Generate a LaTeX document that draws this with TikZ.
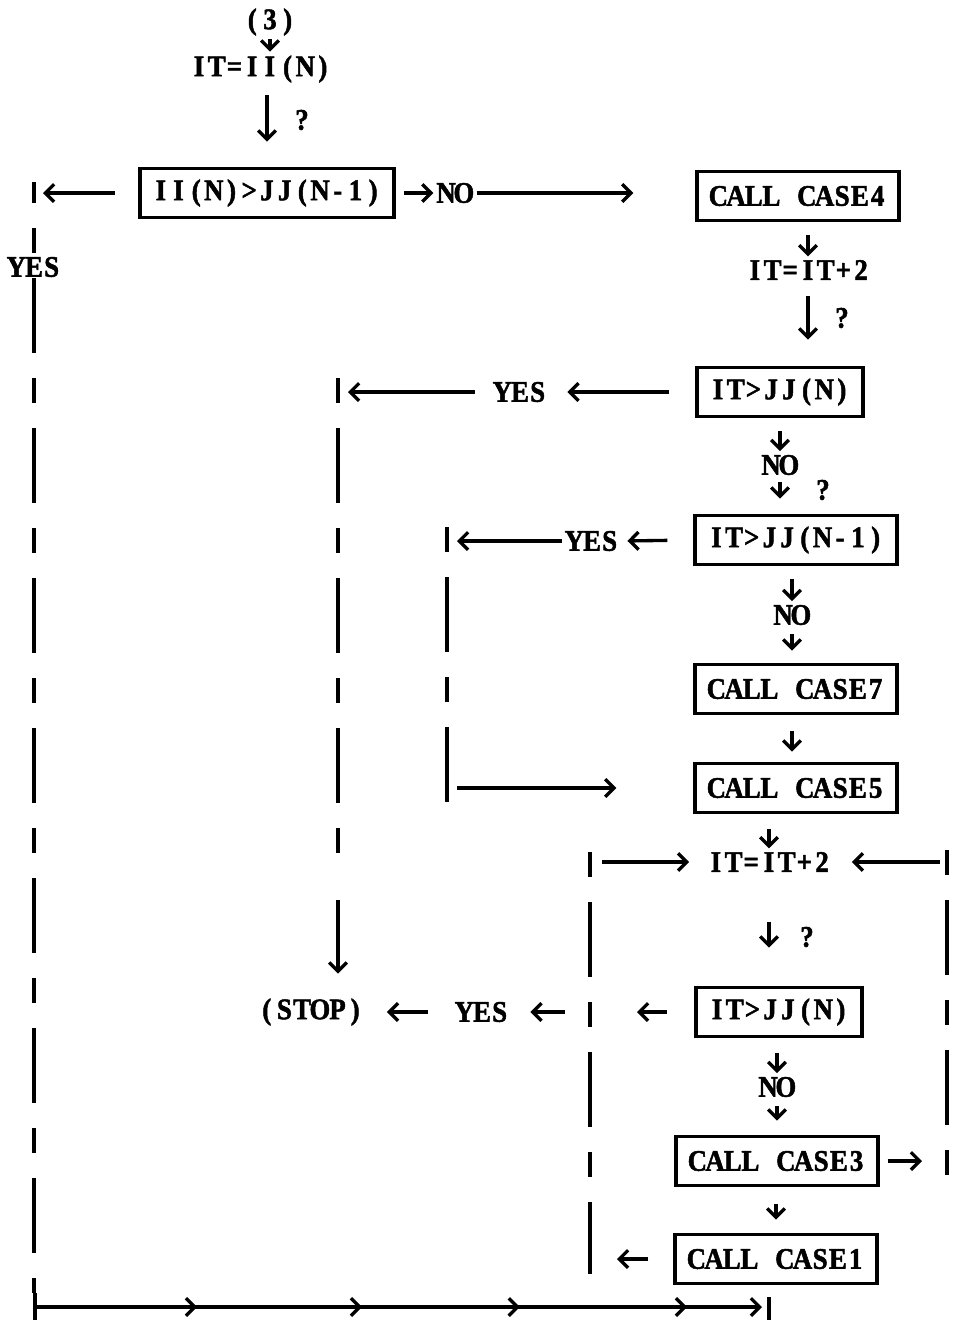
\documentclass[tikz,border=0pt]{standalone}
\usepackage{fontspec}
\setmainfont{Liberation Serif}[FakeStretch=0.9,FakeBold=1.6]
\usetikzlibrary{arrows.meta,decorations.markings}

% typewriter pitch: one box per character
\newcommand{\tw}[1]{\twchar#1\relax}
\newcommand{\twchar}[1]{\ifx\relax#1\else\makebox[0.354cm]{#1}\expandafter\twchar\fi}

\begin{document}
\begin{tikzpicture}[x=0.02cm,y=-0.02cm,
    >={Straight Barb[length=5pt,width=10pt]},
    every node/.style={font=\bfseries\fontsize{17}{20}\selectfont, inner sep=2pt},
    box/.style={draw, line width=2.2pt, inner xsep=7pt, minimum height=0.98cm},
    flow/.style={->, line width=1.9pt},
    busline/.style={line width=2pt, dash pattern=on 0.5cm off 0.5cm on 1.5cm off 0.5cm},
    tick/.style={line width=2pt},
    loopline/.style={flow, postaction={decorate}, decoration={markings,
        mark=at position 0.223 with {\arrow{>}}, mark=at position 0.45 with {\arrow{>}},
        mark=at position 0.667 with {\arrow{>}}, mark=at position 0.897 with {\arrow{>}}}}]
\useasboundingbox (0,0) rectangle (962,1320);

% test chain
\node (start) at (270,22) {\tw{(3)}};
\node (itinit) at (261,69) {\tw{IT=II(N)}};
\node (q0) at (302,120) {?};
\node[box] (cmp0) at (267,193) {\tw{II(N)>JJ(N-1)}};
\node (no0) at (455,193) {\tw{NO}};
\node[box] (case4) at (798,196) {\tw{CALL~CASE4}};
\node (yes0) at (34,267) {\tw{YES}};
\node (itinc1) at (808,270) {\tw{IT=IT+2}};
\node (q1) at (842,318) {?};
\node[box] (cmp1) at (780,392) {\tw{IT>JJ(N)}};
\node (yes1) at (520,392) {\tw{YES}};
\node (no1) at (780,465) {\tw{NO}};
\node (q2) at (823,490) {?};
\node[box] (cmp2) at (796,540) {\tw{IT>JJ(N-1)}};
\node (yes2) at (592,541) {\tw{YES}};
\node (no2) at (792,615) {\tw{NO}};
\node[box] (case7) at (796,689) {\tw{CALL~CASE7}};
\node[box] (case5) at (796,788) {\tw{CALL~CASE5}};
\node (itinc2) at (769,862) {\tw{IT=IT+2}};
\node (q3) at (807,937) {?};
\node[box] (cmp3) at (779,1012) {\tw{IT>JJ(N)}};
\node (yes3) at (482,1012) {\tw{YES}};
\node (stop) at (311,1012) {\tw{(STOP)}};
\node (no3) at (777,1087) {\tw{NO}};
\node[box] (case3) at (777,1161) {\tw{CALL~CASE3}};
\node[box] (case1) at (776,1259) {\tw{CALL~CASE1}};

% return lines
\coordinate (a0) at (34,182); \coordinate (a1) at (34,1293);
\coordinate (b0) at (338,378); \coordinate (b1) at (338,875); \coordinate (b2) at (338,900);
\coordinate (c0) at (447,527); \coordinate (c1) at (447,802);
\coordinate (d0) at (590,852); \coordinate (d1) at (590,1274);
\coordinate (e0) at (947,850); \coordinate (e1) at (947,1175);
\coordinate (f0) at (35,1307); \coordinate (f1) at (762,1307); \coordinate (f2) at (769,1307);

\draw[flow] (start.south) -- (start.south |- itinit.north);
\draw[flow, shorten <=0.18cm, shorten >=0.5cm] (cmp0.north |- itinit.south) -- (cmp0.north);
\draw[flow, shorten <=0.46cm, shorten >=0.18cm] (cmp0.west) -- (a0 |- cmp0);
\draw[flow, shorten <=0.16cm] (cmp0.east) -- (no0.west);
\draw[flow, shorten >=1.24cm] (no0.east) -- (case4.west |- no0);
\draw[flow, shorten <=0.26cm] (case4.south -| itinc1) -- (itinc1.north);
\draw[flow, shorten <=0.24cm, shorten >=0.52cm] (itinc1.south) -- (itinc1.south |- cmp1.north);

\draw[flow, shorten <=0.52cm, shorten >=0.34cm] (cmp1.west) -- (yes1.east);
\draw[flow, shorten <=0.3cm, shorten >=0.2cm] (yes1.west) -- (b0 |- yes1);
\draw[flow, shorten <=0.26cm] (cmp1.south) -- (no1.north);
\draw[flow, shorten <=0.06cm, shorten >=0.3cm] (no1.south) -- (no1.south |- cmp2.north);

\draw[flow, shorten <=0.52cm, shorten >=0.1cm] (cmp2.west) -- (yes2.east);
\draw[flow, shorten >=0.2cm] (yes2.west) -- (c0 |- yes2);
\draw[flow, shorten <=0.26cm] (cmp2.south -| no2) -- (no2.north);
\draw[flow, shorten <=0.1cm, shorten >=0.24cm] (no2.south) -- (no2.south |- case7.north);
\draw[flow, shorten <=0.32cm, shorten >=0.2cm] (case7.south -| no2) -- (no2 |- case5.north);
\draw[flow, shorten <=0.2cm, shorten >=1.54cm] (c1 |- case5) -- (case5.west);

\draw[flow, shorten <=0.3cm] (case5.south -| itinc2) -- (itinc2.north);
\draw[flow, shorten <=0.24cm, shorten >=0.28cm] (d0 |- itinc2) -- (itinc2.west);
\draw[flow, shorten <=0.14cm, shorten >=0.34cm] (e0 |- itinc2) -- (itinc2.east);
\draw[flow, shorten <=0.92cm, shorten >=0.76cm] (itinc2.south) -- (itinc2.south |- cmp3.north);

\draw[flow, shorten <=0.54cm, shorten >=0.94cm] (cmp3.west) -- (d0 |- cmp3);
\draw[flow, shorten <=0.5cm, shorten >=0.36cm] (d0 |- cmp3) -- (yes3.east);
\draw[flow, shorten <=0.48cm, shorten >=0.38cm] (yes3.west) -- (stop.east);
\draw[flow, shorten >=0.42cm] (b2) -- (b2 |- stop.north);
\draw[flow, shorten <=0.3cm] (cmp3.south -| no3) -- (no3.north);
\draw[flow, shorten <=0.1cm, shorten >=0.28cm] (no3.south) -- (no3.south |- case3.north);
\draw[flow, shorten <=0.16cm, shorten >=0.5cm] (case3.east) -- (e0 |- case3);
\draw[flow, shorten <=0.34cm, shorten >=0.26cm] (case3.south -| case1) -- (case1.north);
\draw[flow, shorten <=0.5cm, shorten >=0.54cm] (case1.west) -- (d0 |- case1);

\draw[busline, dash phase=2.08cm] (a0) -- (a1);
\draw[busline] (b0) -- (b1);
\draw[busline] (c0) -- (c1);
\draw[busline] (d0) -- (d1);
\draw[busline] (e0) -- (e1);
\draw[tick] ([yshift=0.28cm]f0) -- ([yshift=-0.26cm]f0);
\draw[loopline] (f0) -- (f1);
\draw[tick] ([yshift=0.2cm]f2) -- ([yshift=-0.26cm]f2);
\end{tikzpicture}
\end{document}
